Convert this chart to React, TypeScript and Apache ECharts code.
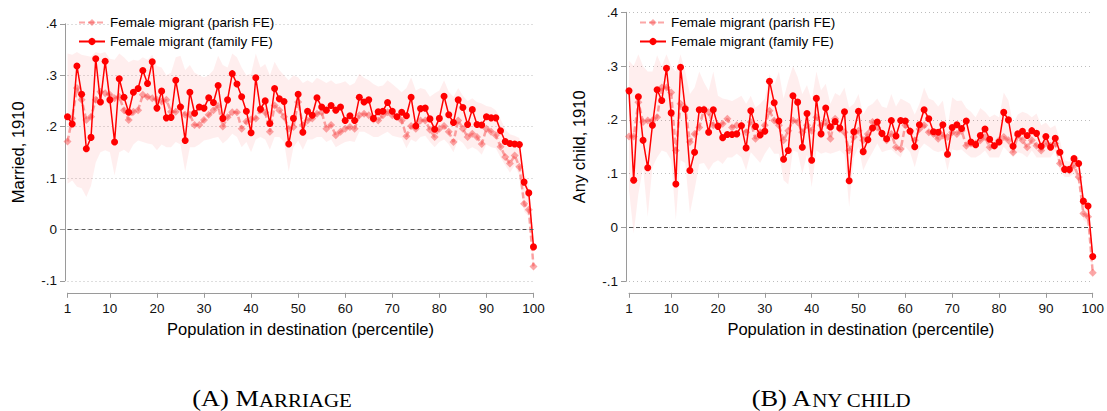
import React, { useEffect, useRef } from "react";
import * as echarts from "echarts";

// Percentile of destination population (x categories)
const percentiles: number[] = Array.from({ length: 100 }, (_, i) => i + 1);
const xTickValues: number[] = [1, 10, 20, 30, 40, 50, 60, 70, 80, 90, 100];

const parishName = "Female migrant (parish FE)";
const familyName = "Female migrant (family FE)";

// (A) Marriage
const marriageFamily: number[] = [
  0.219, 0.205, 0.318, 0.263, 0.157, 0.179, 0.332, 0.248, 0.327, 0.252,
  0.170, 0.293, 0.257, 0.228, 0.267, 0.274, 0.309, 0.284, 0.326, 0.236,
  0.269, 0.217, 0.218, 0.290, 0.238, 0.173, 0.267, 0.226, 0.238, 0.236,
  0.256, 0.247, 0.280, 0.216, 0.252, 0.303, 0.283, 0.258, 0.230, 0.188,
  0.295, 0.234, 0.250, 0.206, 0.274, 0.254, 0.249, 0.166, 0.216, 0.263,
  0.189, 0.230, 0.222, 0.256, 0.238, 0.232, 0.241, 0.232, 0.238, 0.212,
  0.221, 0.212, 0.257, 0.248, 0.252, 0.216, 0.229, 0.230, 0.247, 0.230,
  0.219, 0.228, 0.221, 0.257, 0.201, 0.235, 0.236, 0.215, 0.195, 0.216,
  0.259, 0.223, 0.208, 0.252, 0.237, 0.204, 0.233, 0.204, 0.203, 0.219,
  0.217, 0.217, 0.192, 0.171, 0.167, 0.166, 0.165, 0.092, 0.071, -0.034,
];
const marriageParish: number[] = [
  0.171, 0.216, 0.275, 0.252, 0.213, 0.219, 0.252, 0.268, 0.265, 0.262,
  0.255, 0.258, 0.232, 0.213, 0.229, 0.232, 0.262, 0.258, 0.255, 0.252,
  0.249, 0.252, 0.229, 0.229, 0.239, 0.223, 0.223, 0.203, 0.203, 0.213,
  0.223, 0.232, 0.240, 0.200, 0.218, 0.228, 0.228, 0.196, 0.210, 0.214,
  0.216, 0.232, 0.228, 0.190, 0.241, 0.232, 0.219, 0.196, 0.199, 0.248,
  0.203, 0.212, 0.216, 0.225, 0.228, 0.196, 0.203, 0.183, 0.190, 0.196,
  0.199, 0.196, 0.222, 0.225, 0.222, 0.214, 0.212, 0.222, 0.228, 0.222,
  0.219, 0.212, 0.181, 0.201, 0.196, 0.212, 0.212, 0.194, 0.180, 0.196,
  0.201, 0.190, 0.170, 0.212, 0.196, 0.180, 0.186, 0.180, 0.166, 0.196,
  0.190, 0.183, 0.161, 0.141, 0.128, 0.144, 0.122, 0.050, 0.038, -0.072,
];
const marriageBandHi: number[] = [
  0.342, 0.340, 0.345, 0.340, 0.338, 0.336, 0.345, 0.342, 0.345, 0.332,
  0.330, 0.342, 0.335, 0.325, 0.330, 0.328, 0.335, 0.330, 0.340, 0.318,
  0.315, 0.300, 0.305, 0.335, 0.338, 0.310, 0.320, 0.305, 0.300, 0.296,
  0.300, 0.310, 0.338, 0.320, 0.315, 0.342, 0.335, 0.315, 0.300, 0.303,
  0.342, 0.315, 0.322, 0.300, 0.326, 0.310, 0.300, 0.290, 0.300, 0.296,
  0.285, 0.290, 0.285, 0.295, 0.290, 0.285, 0.290, 0.283, 0.285, 0.288,
  0.280, 0.285, 0.303, 0.295, 0.290, 0.283, 0.278, 0.280, 0.290, 0.283,
  0.275, 0.267, 0.275, 0.296, 0.270, 0.275, 0.272, 0.258, 0.265, 0.270,
  0.290, 0.268, 0.258, 0.275, 0.260, 0.250, 0.255, 0.248, 0.245, 0.240,
  0.238, 0.232, 0.215, 0.195, 0.185, 0.182, 0.178, 0.110, 0.088, -0.015,
];
const marriageBandLo: number[] = [
  0.089, 0.095, 0.083, 0.080, 0.063, 0.085, 0.130, 0.150, 0.154, 0.150,
  0.105, 0.150, 0.155, 0.148, 0.165, 0.173, 0.170, 0.167, 0.165, 0.154,
  0.165, 0.160, 0.160, 0.170, 0.165, 0.112, 0.160, 0.160, 0.165, 0.173,
  0.175, 0.178, 0.180, 0.167, 0.175, 0.186, 0.180, 0.160, 0.170, 0.150,
  0.175, 0.180, 0.175, 0.155, 0.180, 0.180, 0.170, 0.112, 0.160, 0.173,
  0.155, 0.175, 0.175, 0.180, 0.180, 0.170, 0.175, 0.160, 0.165, 0.170,
  0.172, 0.170, 0.190, 0.190, 0.185, 0.180, 0.180, 0.185, 0.190, 0.182,
  0.180, 0.178, 0.158, 0.175, 0.170, 0.180, 0.182, 0.170, 0.160, 0.170,
  0.175, 0.165, 0.150, 0.175, 0.168, 0.155, 0.160, 0.155, 0.145, 0.165,
  0.160, 0.158, 0.140, 0.125, 0.110, 0.125, 0.105, 0.035, 0.025, -0.085,
];

// (B) Any child
const childFamily: number[] = [
  0.254, 0.088, 0.243, 0.162, 0.111, 0.190, 0.256, 0.236, 0.296, 0.213,
  0.081, 0.298, 0.220, 0.106, 0.140, 0.219, 0.219, 0.177, 0.219, 0.188,
  0.167, 0.173, 0.173, 0.174, 0.189, 0.148, 0.217, 0.188, 0.172, 0.179,
  0.272, 0.232, 0.198, 0.127, 0.143, 0.245, 0.233, 0.149, 0.212, 0.125,
  0.240, 0.174, 0.222, 0.187, 0.197, 0.185, 0.215, 0.087, 0.178, 0.216,
  0.141, 0.163, 0.185, 0.196, 0.175, 0.165, 0.199, 0.170, 0.199, 0.198,
  0.179, 0.150, 0.191, 0.219, 0.202, 0.178, 0.177, 0.191, 0.136, 0.186,
  0.191, 0.184, 0.198, 0.159, 0.154, 0.171, 0.183, 0.164, 0.152, 0.159,
  0.214, 0.200, 0.151, 0.174, 0.179, 0.171, 0.180, 0.175, 0.151, 0.169,
  0.149, 0.166, 0.140, 0.108, 0.108, 0.128, 0.119, 0.049, 0.040, -0.054,
];
const childParish: number[] = [
  0.169, 0.169, 0.233, 0.196, 0.199, 0.199, 0.205, 0.260, 0.260, 0.251,
  0.143, 0.230, 0.223, 0.159, 0.174, 0.186, 0.220, 0.214, 0.190, 0.190,
  0.193, 0.202, 0.186, 0.190, 0.190, 0.177, 0.196, 0.165, 0.177, 0.190,
  0.217, 0.199, 0.190, 0.162, 0.180, 0.199, 0.196, 0.177, 0.190, 0.180,
  0.205, 0.190, 0.196, 0.165, 0.202, 0.183, 0.177, 0.143, 0.168, 0.180,
  0.162, 0.174, 0.196, 0.186, 0.174, 0.162, 0.174, 0.149, 0.146, 0.190,
  0.180, 0.162, 0.183, 0.190, 0.177, 0.174, 0.165, 0.171, 0.168, 0.177,
  0.174, 0.180, 0.152, 0.156, 0.156, 0.162, 0.168, 0.149, 0.152, 0.162,
  0.168, 0.162, 0.140, 0.171, 0.162, 0.149, 0.162, 0.152, 0.143, 0.156,
  0.152, 0.156, 0.119, 0.109, 0.106, 0.115, 0.094, 0.026, 0.020, -0.084,
];
const childBandHi: number[] = [
  0.310, 0.300, 0.322, 0.300, 0.290, 0.290, 0.320, 0.300, 0.322, 0.300,
  0.290, 0.322, 0.290, 0.248, 0.260, 0.290, 0.270, 0.254, 0.290, 0.245,
  0.240, 0.238, 0.235, 0.240, 0.245, 0.230, 0.245, 0.223, 0.230, 0.240,
  0.285, 0.265, 0.290, 0.240, 0.273, 0.300, 0.280, 0.248, 0.265, 0.236,
  0.290, 0.255, 0.267, 0.230, 0.250, 0.245, 0.260, 0.223, 0.230, 0.248,
  0.210, 0.225, 0.230, 0.240, 0.225, 0.222, 0.248, 0.225, 0.240, 0.235,
  0.230, 0.210, 0.230, 0.260, 0.240, 0.236, 0.225, 0.236, 0.186, 0.242,
  0.235, 0.236, 0.222, 0.215, 0.205, 0.222, 0.215, 0.205, 0.210, 0.205,
  0.251, 0.236, 0.193, 0.210, 0.215, 0.212, 0.205, 0.212, 0.190, 0.195,
  0.185, 0.190, 0.162, 0.125, 0.122, 0.137, 0.130, 0.057, 0.050, -0.042,
];
const childBandLo: number[] = [
  0.069, -0.011, 0.062, 0.112, 0.020, 0.112, 0.130, 0.143, 0.140, 0.125,
  0.014, 0.125, 0.120, 0.026, 0.070, 0.118, 0.120, 0.106, 0.120, 0.125,
  0.118, 0.130, 0.130, 0.137, 0.130, 0.106, 0.140, 0.130, 0.120, 0.137,
  0.150, 0.137, 0.137, 0.088, 0.080, 0.143, 0.140, 0.100, 0.135, 0.075,
  0.143, 0.137, 0.140, 0.137, 0.140, 0.143, 0.135, 0.038, 0.130, 0.150,
  0.106, 0.125, 0.140, 0.156, 0.140, 0.143, 0.145, 0.137, 0.130, 0.150,
  0.140, 0.112, 0.145, 0.156, 0.150, 0.143, 0.140, 0.143, 0.106, 0.145,
  0.143, 0.145, 0.137, 0.130, 0.130, 0.135, 0.143, 0.130, 0.130, 0.130,
  0.150, 0.140, 0.130, 0.140, 0.137, 0.130, 0.143, 0.130, 0.130, 0.130,
  0.130, 0.143, 0.106, 0.094, 0.094, 0.100, 0.081, 0.014, 0.007, -0.098,
];

const FONT = "'Liberation Sans', Arial, Helvetica, sans-serif";
const SERIF = "'Liberation Serif', 'Times New Roman', serif";
const AXIS_GRAY = "#9a9a9a";
const FAMILY_RED = "#ff0000";
const PARISH_PINK = "rgba(248, 80, 80, 0.5)";
const BAND_FILL = "rgba(255, 0, 0, 0.065)";

const fmtY = (v: number) => {
  const r = Math.round(v * 10) / 10;
  if (r === 0) return "0";
  const s = Math.abs(r).toFixed(1).replace(/^0/, "");
  return (r < 0 ? "-" : "") + s;
};

function panelSeries(
  k: number,
  family: number[],
  parish: number[],
  lo: number[],
  hi: number[]
): any[] {
  return [
    {
      type: "custom",
      xAxisIndex: k,
      yAxisIndex: k,
      silent: true,
      z: 1,
      data: percentiles.map((p, i) => [p, lo[i], hi[i]]),
      encode: { x: 0, y: [1, 2] },
      renderItem: (params: any, api: any) => {
        if (params.dataIndex !== 0) return null;
        const top = percentiles.map((p, i) => api.coord([p, hi[i]]));
        const bot = percentiles.map((p, i) => api.coord([p, lo[i]])).reverse();
        return {
          type: "polygon",
          shape: { points: top.concat(bot) },
          style: { fill: BAND_FILL },
        };
      },
    },
    {
      name: parishName,
      type: "line",
      xAxisIndex: k,
      yAxisIndex: k,
      z: 2,
      silent: true,
      data: percentiles.map((p, i) => [p, parish[i]]),
      symbol: "diamond",
      symbolSize: 8,
      showSymbol: true,
      itemStyle: { color: PARISH_PINK },
      lineStyle: { color: PARISH_PINK, width: 2.5, type: [6, 3] },
      emphasis: { disabled: true },
      markLine: {
        silent: true,
        symbol: ["none", "none"],
        label: { show: false },
        lineStyle: { color: "#555", type: [4, 3], width: 1 },
        data: [{ yAxis: 0 }],
      },
    },
    {
      name: familyName,
      type: "line",
      xAxisIndex: k,
      yAxisIndex: k,
      z: 3,
      silent: true,
      data: percentiles.map((p, i) => [p, family[i]]),
      symbol: "circle",
      symbolSize: 7,
      showSymbol: true,
      itemStyle: { color: FAMILY_RED },
      lineStyle: { color: FAMILY_RED, width: 1.5 },
      emphasis: { disabled: true },
    },
  ];
}

function xAxisFor(k: number, offset: number): any {
  return {
    type: "value",
    gridIndex: k,
    min: 1,
    max: 100,
    offset,
    name: "Population in destination (percentile)",
    nameLocation: "middle",
    nameGap: 28,
    nameTextStyle: { fontSize: 16.5, color: "#000", fontFamily: FONT },
    axisLine: { show: true, onZero: false, lineStyle: { color: AXIS_GRAY, width: 1 } },
    axisTick: {
      show: true,
      customValues: xTickValues,
      length: 5,
      lineStyle: { color: AXIS_GRAY },
    },
    axisLabel: {
      customValues: xTickValues,
      fontSize: 13.5,
      color: "#111",
      margin: 9,
      fontFamily: FONT,
    },
    splitLine: { show: false },
  };
}

function yAxisFor(k: number, name: string, offset: number): any {
  return {
    type: "value",
    gridIndex: k,
    min: -0.1,
    max: 0.4,
    interval: 0.1,
    offset,
    name,
    nameLocation: "middle",
    nameGap: 39,
    nameTextStyle: { fontSize: 16.5, color: "#000", fontFamily: FONT },
    axisLine: { show: true, onZero: false, lineStyle: { color: AXIS_GRAY, width: 1 } },
    axisTick: { show: true, length: 5, lineStyle: { color: AXIS_GRAY } },
    axisLabel: {
      formatter: fmtY,
      fontSize: 13.5,
      color: "#111",
      margin: 8,
      fontFamily: FONT,
    },
    splitLine: {
      show: true,
      lineStyle: { color: "#bdbdbd", type: [1, 3], width: 1 },
    },
  };
}

function legendFor(left: number): any {
  return {
    orient: "vertical",
    left,
    top: 15,
    padding: 0,
    itemWidth: 26,
    itemHeight: 9,
    itemGap: 4,
    selectedMode: false,
    data: [parishName, familyName],
    textStyle: { fontSize: 13.5, color: "#000", fontFamily: FONT, lineHeight: 15 },
  };
}

function caption(x: number, big: string, small: string): any {
  return {
    type: "text",
    x,
    y: 398,
    scaleX: 1.1,
    silent: true,
    style: {
      text: `{b|${big}}{s|${small}}`,
      align: "center",
      verticalAlign: "middle",
      rich: {
        b: { fontSize: 24, fontFamily: SERIF, fill: "#000", verticalAlign: "bottom" },
        s: { fontSize: 19, fontFamily: SERIF, fill: "#000", verticalAlign: "bottom" },
      },
    },
  };
}

export default function App() {
  const ref = useRef<HTMLDivElement | null>(null);

  useEffect(() => {
    if (!ref.current) return;
    const chart = echarts.init(ref.current, null, { renderer: "svg" });
    const option: any = {
      animation: false,
      backgroundColor: "#ffffff",
      textStyle: { fontFamily: FONT },
      grid: [
        { left: 67.5, top: 23.8, width: 466, height: 257 },
        { left: 629, top: 12.3, width: 466, height: 269 },
      ],
      xAxis: [xAxisFor(0, 12), xAxisFor(1, 11.5)],
      yAxis: [yAxisFor(0, "Married, 1910", 2.5), yAxisFor(1, "Any child, 1910", 3)],
      legend: [legendFor(78), legendFor(639)],
      series: [
        ...panelSeries(0, marriageFamily, marriageParish, marriageBandLo, marriageBandHi),
        ...panelSeries(1, childFamily, childParish, childBandLo, childBandHi),
      ],
      graphic: [caption(272, "(A) M", "ARRIAGE"), caption(831, "(B) A", "NY CHILD")],
    };
    chart.setOption(option);
    return () => chart.dispose();
  }, []);

  return (
    <div
      ref={ref}
      style={{ position: "absolute", left: 0, top: 0, width: 1107, height: 411 }}
    />
  );
}
